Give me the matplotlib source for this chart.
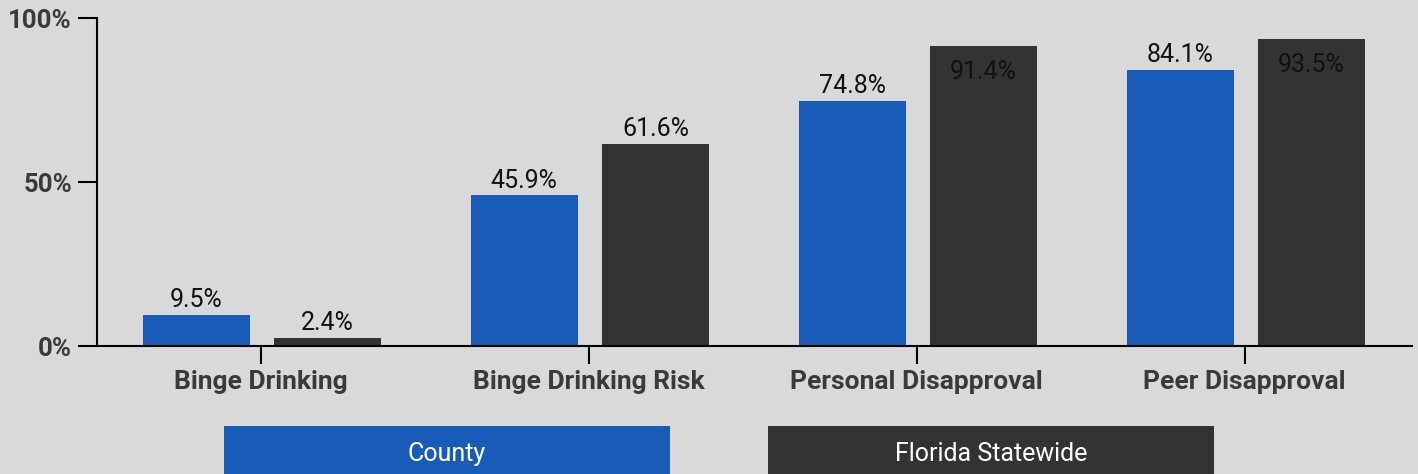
import numpy as np
import matplotlib
matplotlib.use("Agg")
import matplotlib.pyplot as plt
from matplotlib.patches import Rectangle

# data
categories = ["Binge Drinking", "Binge Drinking Risk", "Personal Disapproval", "Peer Disapproval"]
county = [9.5, 45.9, 74.8, 84.1]
statewide = [2.4, 61.6, 91.4, 93.5]
series_names = ["County", "Florida Statewide"]
yticks = [0, 50, 100]

blue = "#185cb8"
dark = "#333333"
bg = "#d9d9d9"

plt.rcParams['font.family'] = ['Roboto', 'DejaVu Sans']

W, H = 1418, 474
fig = plt.figure(figsize=(W/100, H/100), dpi=100, facecolor=bg)
ax = fig.add_axes([97/W, 1-346/H, (1412-97)/W, (346-18)/H])
ax.set_facecolor(bg)

x = np.arange(len(categories))
bw = 0.326
b1 = ax.bar(x - 0.197, county, bw, color=blue, zorder=2)
b2 = ax.bar(x + 0.203, statewide, bw, color=dark, zorder=2)

# value labels: above the bar, or inside when the bar is too tall
for bars, vals in [(b1, county), (b2, statewide)]:
    for r, v in zip(bars, vals):
        cx = r.get_x() + r.get_width()/2
        if v > 88:
            ax.annotate(f"{v}%", (cx, v), xytext=(0, -10), textcoords="offset points",
                        ha="center", va="top", fontsize=18, color="#111111")
        else:
            ax.annotate(f"{v}%", (cx, v), xytext=(0, 2), textcoords="offset points",
                        ha="center", va="bottom", fontsize=18, color="#111111")

ax.set_xlim(-0.5, 3.51)
ax.set_ylim(0, 100)
ax.set_yticks(yticks)
ax.set_yticklabels([f"{t}%" for t in yticks], fontsize=18.5, fontweight="bold", color="#3a3a3a")
ax.set_xticks(x)
ax.set_xticklabels(categories, fontsize=19, fontweight="bold", color="#3a3a3a")
ax.tick_params(axis="y", length=14, width=1.5, pad=4)
ax.tick_params(axis="x", length=13, width=1.5, pad=4)
for s in ["top", "right"]:
    ax.spines[s].set_visible(False)
for s in ["left", "bottom"]:
    ax.spines[s].set_linewidth(1.5)

# legend as two filled boxes at the bottom
for (x0, x1), name, c in [((224, 670), series_names[0], blue), ((768, 1214), series_names[1], dark)]:
    fig.patches.append(Rectangle((x0/W, 0), (x1-x0)/W, 48/H, transform=fig.transFigure,
                                 facecolor=c, edgecolor="none"))
    fig.text((x0+x1)/2/W, 1-454/H, name, ha="center", va="center", fontsize=18, color="white")

fig.savefig("out.png", facecolor=bg)
